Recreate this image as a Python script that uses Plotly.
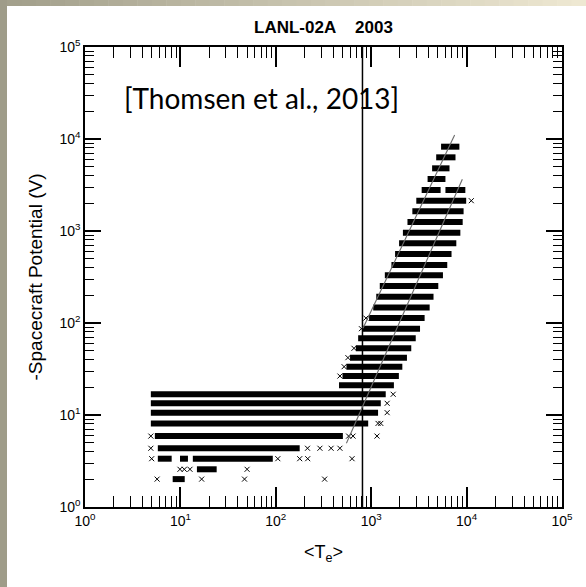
import plotly.graph_objects as go
import numpy as np

# ---------------- data ----------------
# dense bands of points: potential level (V), start and end temperature
band_v = [8250, 6320, 4800, 3675, 2790, 2790, 2135, 1635, 1253, 960, 735, 562,
          427, 330, 252, 193, 147, 113, 86.7, 68.2, 53.1, 42, 33.5, 26.5, 21,
          16.8, 13.4, 10.6, 8.1, 5.9, 4.35, 3.35, 3.35, 3.35, 2.57, 2.01]
band_t0 = [5400, 4800, 4350, 3900, 3380, 6000, 2970, 2700, 2400, 2150, 1960, 1780,
           1630, 1390, 1230, 1130, 1050, 950, 820, 730, 690, 600, 550, 500, 460,
           4.9, 4.9, 4.9, 4.9, 5.4, 5.8, 5.8, 9.9, 13.5, 14.9, 8.3]
band_t1 = [8400, 7650, 6620, 6000, 5340, 9700, 9900, 9300, 9100, 8600, 7800, 6950,
           6270, 5650, 5050, 4500, 4100, 3630, 3250, 2930, 2630, 2370, 2120, 1950, 1730,
           1420, 1260, 1180, 930, 505, 178, 8.1, 12, 93, 24, 11.1]

# isolated points
pts_t = [11200, 1700, 1470, 1470, 1180, 1260, 4.9, 580, 645, 1150,
         4.9, 215, 290, 380, 470, 5.0, 105, 178, 216, 630,
         9.9, 11, 12.6, 50, 5.7, 16.7, 47, 325,
         470, 520, 570, 790, 880, 660]
pts_v = [2135, 16.8, 13.4, 10.6, 8.1, 8.1, 5.9, 5.9, 5.9, 5.9,
         4.35, 4.35, 4.35, 4.35, 4.35, 3.35, 3.35, 3.35, 3.35, 3.35,
         2.57, 2.57, 2.57, 2.57, 2.01, 2.01, 2.01, 2.01,
         26.5, 33.5, 42, 86.7, 113, 53.1]

# reference lines
vline_t = [810, 810]
vline_v = [1, 1e5]
fit1_t = [820, 7490]
fit1_v = [87.5, 11050]
fit2_t = [550, 9020]
fit2_v = [4.92, 3650]

major_vals = [1, 10, 100, 1000, 10000, 100000]
major_text = ["10<sup>0</sup>", "10<sup>1</sup>", "10<sup>2</sup>",
              "10<sup>3</sup>", "10<sup>4</sup>", "10<sup>5</sup>"]
minor_mult = [2, 3, 4, 5, 6, 7, 8, 9]

# ---------------- figure ----------------
W, H = 586, 587
L, R, T, B = 85, 562, 47, 507

bx, by = [], []
for v, a, b in zip(band_v, band_t0, band_t1):
    bx += [a, b, None]
    by += [v, v, None]

minor_vals = [m * d for d in major_vals[:-1] for m in minor_mult]

fig = go.Figure()
fig.add_trace(go.Scatter(x=bx, y=by, mode="lines",
                         line=dict(color="black", width=6), hoverinfo="skip"))
fig.add_trace(go.Scatter(x=pts_t, y=pts_v, mode="markers",
                         marker=dict(symbol="x-thin", size=5,
                                     line=dict(color="black", width=1))))
fig.add_trace(go.Scatter(x=vline_t, y=vline_v, mode="lines",
                         line=dict(color="black", width=1.5)))
fig.add_trace(go.Scatter(x=fit1_t, y=fit1_v, mode="lines",
                         line=dict(color="#6a6a6a", width=1.1)))
fig.add_trace(go.Scatter(x=fit2_t, y=fit2_v, mode="lines",
                         line=dict(color="#6a6a6a", width=1.1)))

font_family = "Liberation Sans, Arial, sans-serif"
axis_common = dict(
    type="log", range=[0, 5], showgrid=False, zeroline=False,
    showline=True, linecolor="black", linewidth=1.5, mirror="allticks",
    ticks="inside", tickwidth=1.5, tickcolor="black",
    tickmode="array", tickvals=major_vals, ticktext=major_text,
    tickfont=dict(family=font_family, size=14, color="black"),
)

fig.update_layout(
    width=W, height=H,
    margin=dict(l=L, r=W - R, t=T, b=H - B),
    paper_bgcolor="white", plot_bgcolor="white",
    showlegend=False,
    title=dict(text="<b>LANL-02A\u00a0\u00a0\u00a0 2003</b>", x=(L + R) / 2 / W,
               xanchor="center", y=1 - 27 / H, yanchor="middle",
               font=dict(family=font_family, size=17, color="black")),
    xaxis=dict(**axis_common, ticklen=20,
               minor=dict(ticks="inside", ticklen=11, tickwidth=1.2,
                          tickcolor="black", tickmode="array", tickvals=minor_vals),
               title=dict(text="&lt;T<sub>e</sub>&gt;",
                          font=dict(family=font_family, size=18, color="black"),
                          standoff=18)),
    yaxis=dict(**axis_common, ticklen=16,
               minor=dict(ticks="inside", ticklen=9, tickwidth=1.2,
                          tickcolor="black", tickmode="array", tickvals=minor_vals),
               title=dict(text="-Spacecraft Potential (V)",
                          font=dict(family=font_family, size=19, color="black"),
                          standoff=12)),
)

# slide background strips (left bar and top gradient)
pw, ph = R - L, B - T
def px_x(x):
    return (x - L) / pw
def px_y(y):
    return (B - y) / ph

fig.add_shape(type="rect", xref="paper", yref="paper",
              x0=px_x(0), x1=px_x(7), y0=px_y(H), y1=px_y(0),
              fillcolor="#9f9c89", line_width=0, layer="above")
c0 = np.array([0xa3, 0xa0, 0x8c])
c1 = np.array([0xee, 0xe8, 0xd2])
nstep = 40
for i in range(nstep):
    f = i / (nstep - 1)
    c = (c0 + (c1 - c0) * f).astype(int)
    xa = 7 + (W - 7) * i / nstep
    xb = 7 + (W - 7) * (i + 1) / nstep + 0.5
    fig.add_shape(type="rect", xref="paper", yref="paper",
                  x0=px_x(xa), x1=px_x(xb), y0=px_y(6), y1=px_y(0),
                  fillcolor="rgb(%d,%d,%d)" % tuple(c), line_width=0, layer="above")

fig.add_annotation(text="[Thomsen et al., 2013]", xref="paper", yref="paper",
                   x=px_x(122), y=px_y(98), xanchor="left", yanchor="middle",
                   showarrow=False,
                   font=dict(family="Lato, sans-serif", size=28, color="black"))

fig.write_html("out.html")
